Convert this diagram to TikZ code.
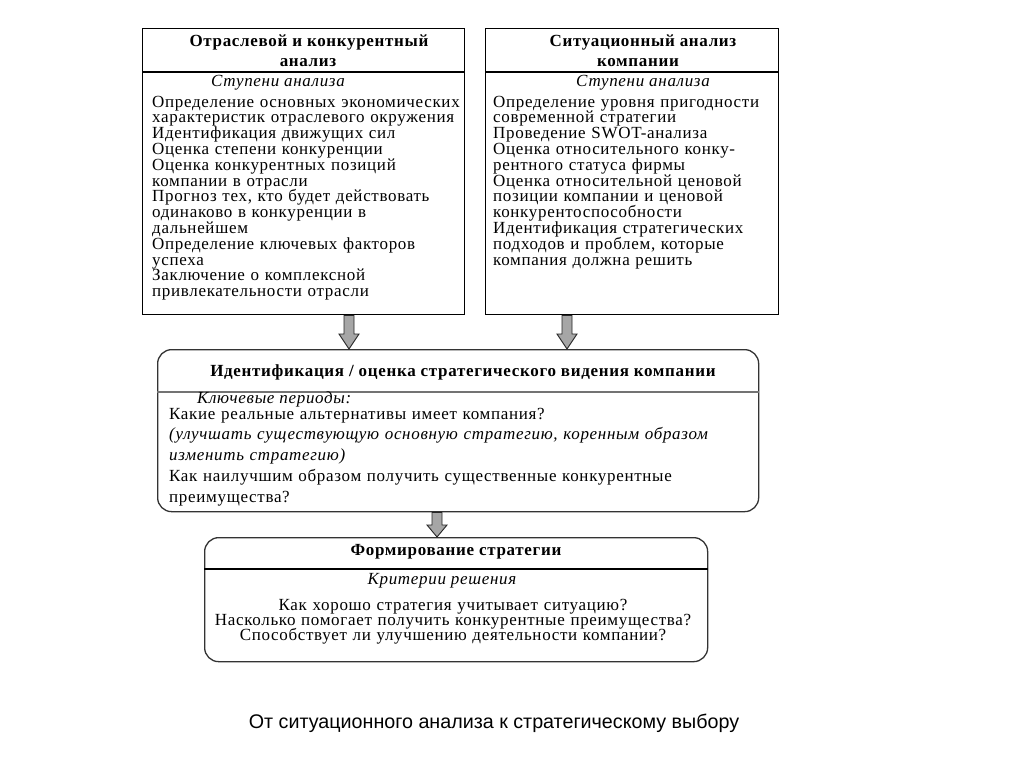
\documentclass[tikz,border=0pt]{standalone}
\usepackage{fontspec}
\setmainfont{Liberation Serif}[LetterSpace=4]
\newfontfamily\capfont{Liberation Sans}
\usetikzlibrary{calc}
\newcommand\tightlines{\lineskiplimit=-100pt\relax\lineskip=0pt\relax}
\newcommand\firstline{\rule{0pt}{12pt}}
\tikzset{
  box/.style={draw=black, line width=1.3pt, fill=white, anchor=north west, inner sep=0pt},
  rbox/.style={box, draw=black!80, rounded corners=14pt},
  sep/.style={line width=1.1pt},
  head/.style={font=\fontsize{17}{20}\selectfont\bfseries, align=center, anchor=base, inner sep=0pt},
  sub/.style={font=\fontsize{17}{16}\selectfont\itshape, anchor=base, inner sep=0pt},
  body/.style={font=\fontsize{17}{15.8}\selectfont\tightlines, align=left, anchor=north west, inner sep=0pt},
  fatarrow/.style={draw=black!85, line width=0.9pt, fill=black!35, line join=miter},
}
\newcommand\fatarr[3]{% start, end, head length
  \draw[fatarrow] ($(#1)+(-5,0)$) -- ($(#2)+(-5,-#3)$) -- ($(#2)+(-10,-#3)$) -- (#2)
    -- ($(#2)+(10,-#3)$) -- ($(#2)+(5,-#3)$) -- ($(#1)+(5,0)$) -- cycle;}
\begin{document}
\begin{tikzpicture}[x=1pt,y=-1pt]
\useasboundingbox[fill=white] (0,0) rectangle (1024,767);
% box 1
\node[box, minimum width=322pt, minimum height=286pt] (b1) at (142,28) {};
\draw[sep] (b1.west |- 0,72) -- (b1.east |- 0,72);
\node[head] (h1a) at (309,47) {Отраслевой и конкурентный};
\node[head] (h1b) at (308,67) {анализ};
\node[sub] (s1) at (278,87) {Ступени анализа};
\node[body, text width=315pt] (t1) at (152,95) {\firstline Определение основных экономических\\
характеристик отраслевого окружения\\
Идентификация движущих сил\\
Оценка степени конкуренции\\
Оценка конкурентных позиций\\
компании в отрасли\\
Прогноз тех, кто будет действовать\\
одинаково в конкуренции в\\
дальнейшем\\
Определение ключевых факторов\\
успеха\\
Заключение о комплексной\\
привлекательности отрасли};
% box 2
\node[box, minimum width=293pt, minimum height=286pt] (b2) at (485,28) {};
\draw[sep] (b2.west |- 0,72) -- (b2.east |- 0,72);
\node[head] (h2a) at (643,47) {Ситуационный анализ};
\node[head] (h2b) at (638,67) {компании};
\node[sub] (s2) at (643,87) {Ступени анализа};
\node[body, text width=285pt] (t2) at (493,95) {\firstline Определение уровня пригодности\\
современной стратегии\\
Проведение SWOT-анализа\\
Оценка относительного конку-\\
рентного статуса фирмы\\
Оценка относительной ценовой\\
позиции компании и ценовой\\
конкурентоспособности\\
Идентификация стратегических\\
подходов и проблем, которые\\
компания должна решить};
% box 3
\node[rbox, minimum width=601pt, minimum height=162pt] (b3) at (157,349) {};
\draw[sep, draw=black!55] (b3.west |- 0,392) -- (b3.east |- 0,392);
\node[head] (h3) at (463,376) {Идентификация / оценка стратегического видения компании};
\node[sub, anchor=base west] (s3) at (197,403) {Ключевые периоды:};
\node[body, text width=585pt, font=\fontsize{17}{20.7}\selectfont\tightlines] (t3) at (169,407) {\firstline Какие реальные альтернативы имеет компания?\\
\textit{(улучшать существующую основную стратегию, коренным образом}\\
\textit{изменить стратегию)}\\
Как наилучшим образом получить существенные конкурентные\\
преимущества?};
% box 4
\node[rbox, minimum width=503pt, minimum height=124pt] (b4) at (204,537) {};
\draw[sep] (b4.west |- 0,569) -- (b4.east |- 0,569);
\node[head] (h4) at (456,555) {Формирование стратегии};
\node[sub] (s4) at (442,584) {Критерии решения};
\node[body, text width=500pt, align=center, anchor=north, font=\fontsize{17}{15.2}\selectfont\tightlines] (t4) at (453,598) {\firstline Как хорошо стратегия учитывает ситуацию?\\
Насколько помогает получить конкурентные преимущества?\\
Способствует ли улучшению деятельности компании?};
% arrows
\coordinate (x1) at (349,0);
\coordinate (x2) at (567,0);
\coordinate (x3) at (437,0);
\fatarr{b1.south -| x1}{b3.north -| x1}{15}
\fatarr{b2.south -| x2}{b3.north -| x2}{15}
\fatarr{b3.south -| x3}{b4.north -| x3}{12}
% caption
\node[font=\capfont\fontsize{19.7}{22}\selectfont, inner sep=0pt, anchor=base] (cap) at (494,728) {От ситуационного анализа к стратегическому выбору};
\end{tikzpicture}
\end{document}
